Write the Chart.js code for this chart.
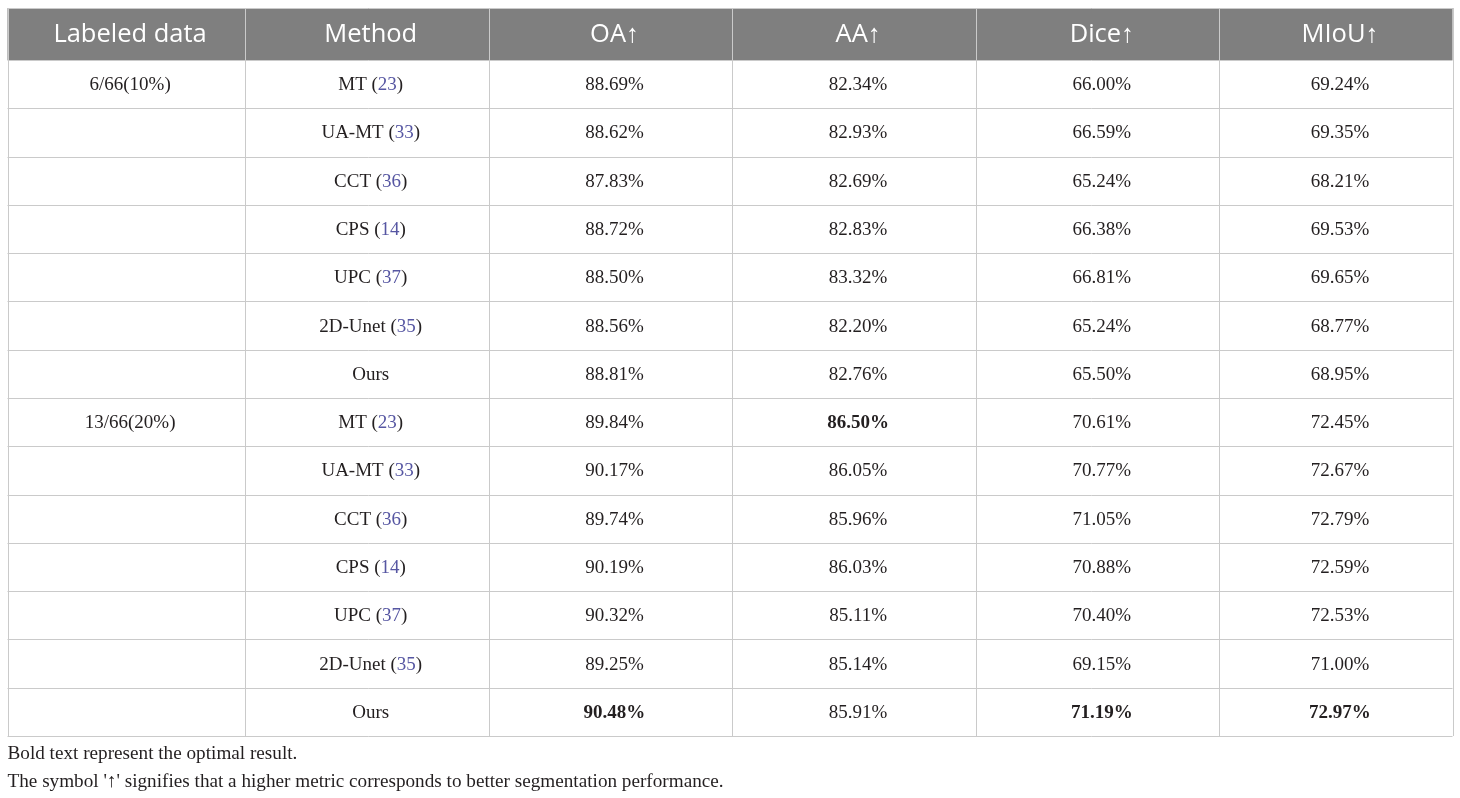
<!DOCTYPE html>
<html>
<head>
<meta charset="utf-8">
<script src="https://cdn.jsdelivr.net/npm/chart.js@4.4.1/dist/chart.umd.min.js"></script>
<style>
  html, body { margin: 0; padding: 0; background: #ffffff; }
  #wrap { width: 1460px; height: 798px; position: relative; }
</style>
</head>
<body>
<div id="wrap"><canvas id="c"></canvas></div>
<script>
// ---------- data ----------
const headers = ['Labeled data', 'Method', 'OA\u2191', 'AA\u2191', 'Dice\u2191', 'MIoU\u2191'];
const groups = ['6/66(10%)', '13/66(20%)'];
const methods = ['MT', 'UA-MT', 'CCT', 'CPS', 'UPC', '2D-Unet', 'Ours'];
const refs = ['23', '33', '36', '14', '37', '35', null];
const OA   = [88.69, 88.62, 87.83, 88.72, 88.50, 88.56, 88.81, 89.84, 90.17, 89.74, 90.19, 90.32, 89.25, 90.48];
const AA   = [82.34, 82.93, 82.69, 82.83, 83.32, 82.20, 82.76, 86.50, 86.05, 85.96, 86.03, 85.11, 85.14, 85.91];
const Dice = [66.00, 66.59, 65.24, 66.38, 66.81, 65.24, 65.50, 70.61, 70.77, 71.05, 70.88, 70.40, 69.15, 71.19];
const MIoU = [69.24, 69.35, 68.21, 69.53, 69.65, 68.77, 68.95, 72.45, 72.67, 72.79, 72.59, 72.53, 71.00, 72.97];
const notes = [
  'Bold text represent the optimal result.',
  "The symbol '\u2191' signifies that a higher metric corresponds to better segmentation performance."
];

// ---------- layout (not data) ----------
const COL_W = [237, 244, 243, 244, 243, 233];
const HEADER_ROWS = 1.077;
const TEXT_SHIFT = 4;
const metrics = [OA, AA, Dice, MIoU];
const nRows = OA.length;
const perGroup = methods.length;
const colEdges = COL_W.reduce((a, w) => { a.push(a[a.length - 1] + w); return a; }, [0]);
const best = metrics.map(arr => Math.max(...arr));

// cell points (one per table cell) built from the arrays
const cellPoints = [];
for (let r = 0; r < nRows; r++) {
  for (let c = 0; c < headers.length; c++) {
    cellPoints.push({ x: (colEdges[c] + colEdges[c + 1]) / 2, y: r + 0.5 });
  }
}

const SERIF = '"Liberation Serif", "Times New Roman", serif';
const SANS = '"Open Sans", "Noto Sans", sans-serif';

const tablePlugin = {
  id: 'tablePlugin',
  beforeDraw(chart) {
    const { ctx } = chart;
    ctx.save();
    ctx.fillStyle = '#ffffff';
    ctx.fillRect(0, 0, chart.width, chart.height);
    ctx.restore();
  },
  afterDatasetsDraw(chart) {
    const { ctx } = chart;
    const xs = chart.scales.x, ys = chart.scales.y;
    const X = v => xs.getPixelForValue(v);
    const Y = v => ys.getPixelForValue(v);
    const CX = c => X((colEdges[c] + colEdges[c + 1]) / 2) + TEXT_SHIFT;
    const x0 = X(0), x1 = X(colEdges[colEdges.length - 1]);
    const yTop = Y(-HEADER_ROWS), yHead = Y(0), yBot = Y(nRows);
    ctx.save();

    // header background
    ctx.fillStyle = '#7f7f7f';
    ctx.fillRect(x0, yTop, x1 - x0, yHead - yTop);

    // grid lines
    ctx.lineWidth = 1;
    ctx.strokeStyle = '#cacaca';
    const crisp = v => Math.round(v) + 0.5;
    ctx.beginPath();
    ctx.moveTo(x0, crisp(yTop)); ctx.lineTo(x1, crisp(yTop));
    for (let r = 0; r <= nRows; r++) {
      const y = crisp(Y(r));
      ctx.moveTo(x0, y); ctx.lineTo(x1, y);
    }
    colEdges.forEach(e => {
      const x = crisp(X(e));
      ctx.moveTo(x, yTop); ctx.lineTo(x, yBot);
    });
    ctx.stroke();

    // header text
    ctx.textAlign = 'center';
    ctx.textBaseline = 'middle';
    ctx.fillStyle = '#ffffff';
    ctx.font = '25.5px ' + SANS;
    headers.forEach((h, c) => {
      ctx.fillText(h, CX(c), (yTop + yHead) / 2 + 1);
    });

    // body text
    for (let r = 0; r < nRows; r++) {
      const yc = Y(r + 0.5) + 1;
      const m = r % perGroup;
      const g = Math.floor(r / perGroup);
      ctx.fillStyle = '#231f20';
      ctx.font = '19px ' + SERIF;
      ctx.textAlign = 'center';
      if (m === 0) {
        ctx.fillText(groups[g], CX(0), yc);
      }
      // method with reference number
      const cx = CX(1);
      if (refs[m]) {
        const parts = [[methods[m] + ' (', '#231f20'], [refs[m], '#5656a2'], [')', '#231f20']];
        const total = parts.reduce((s, p) => s + ctx.measureText(p[0]).width, 0);
        let px = cx - total / 2;
        ctx.textAlign = 'left';
        parts.forEach(p => {
          ctx.fillStyle = p[1];
          ctx.fillText(p[0], px, yc);
          px += ctx.measureText(p[0]).width;
        });
        ctx.textAlign = 'center';
        ctx.fillStyle = '#231f20';
      } else {
        ctx.fillText(methods[m], cx, yc);
      }
      metrics.forEach((arr, k) => {
        const c = k + 2;
        const isBest = arr[r] === best[k];
        ctx.font = (isBest ? 'bold ' : '') + '19px ' + SERIF;
        ctx.fillText(arr[r].toFixed(2) + '%', CX(c), yc);
      });
    }

    // footnotes
    ctx.font = '19.2px ' + SERIF;
    ctx.textAlign = 'left';
    ctx.textBaseline = 'alphabetic';
    ctx.fillStyle = '#231f20';
    ctx.fillText(notes[0], x0, yBot + 23);
    ctx.fillText(notes[1], x0, yBot + 51);
    ctx.restore();
  }
};

new Chart(document.getElementById('c'), {
  type: 'scatter',
  data: {
    datasets: [{
      data: cellPoints,
      pointRadius: 0,
      pointHoverRadius: 0,
      showLine: false
    }]
  },
  options: {
    responsive: true,
    maintainAspectRatio: false,
    animation: false,
    events: [],
    layout: { padding: { left: 7.5, right: 7.5, top: 8, bottom: 62 } },
    plugins: { legend: { display: false }, tooltip: { enabled: false }, title: { display: false } },
    scales: {
      x: { type: 'linear', display: false, min: 0, max: colEdges[colEdges.length - 1] },
      y: { type: 'linear', display: false, min: -HEADER_ROWS, max: nRows, reverse: true }
    }
  },
  plugins: [tablePlugin]
});
</script>
</body>
</html>
